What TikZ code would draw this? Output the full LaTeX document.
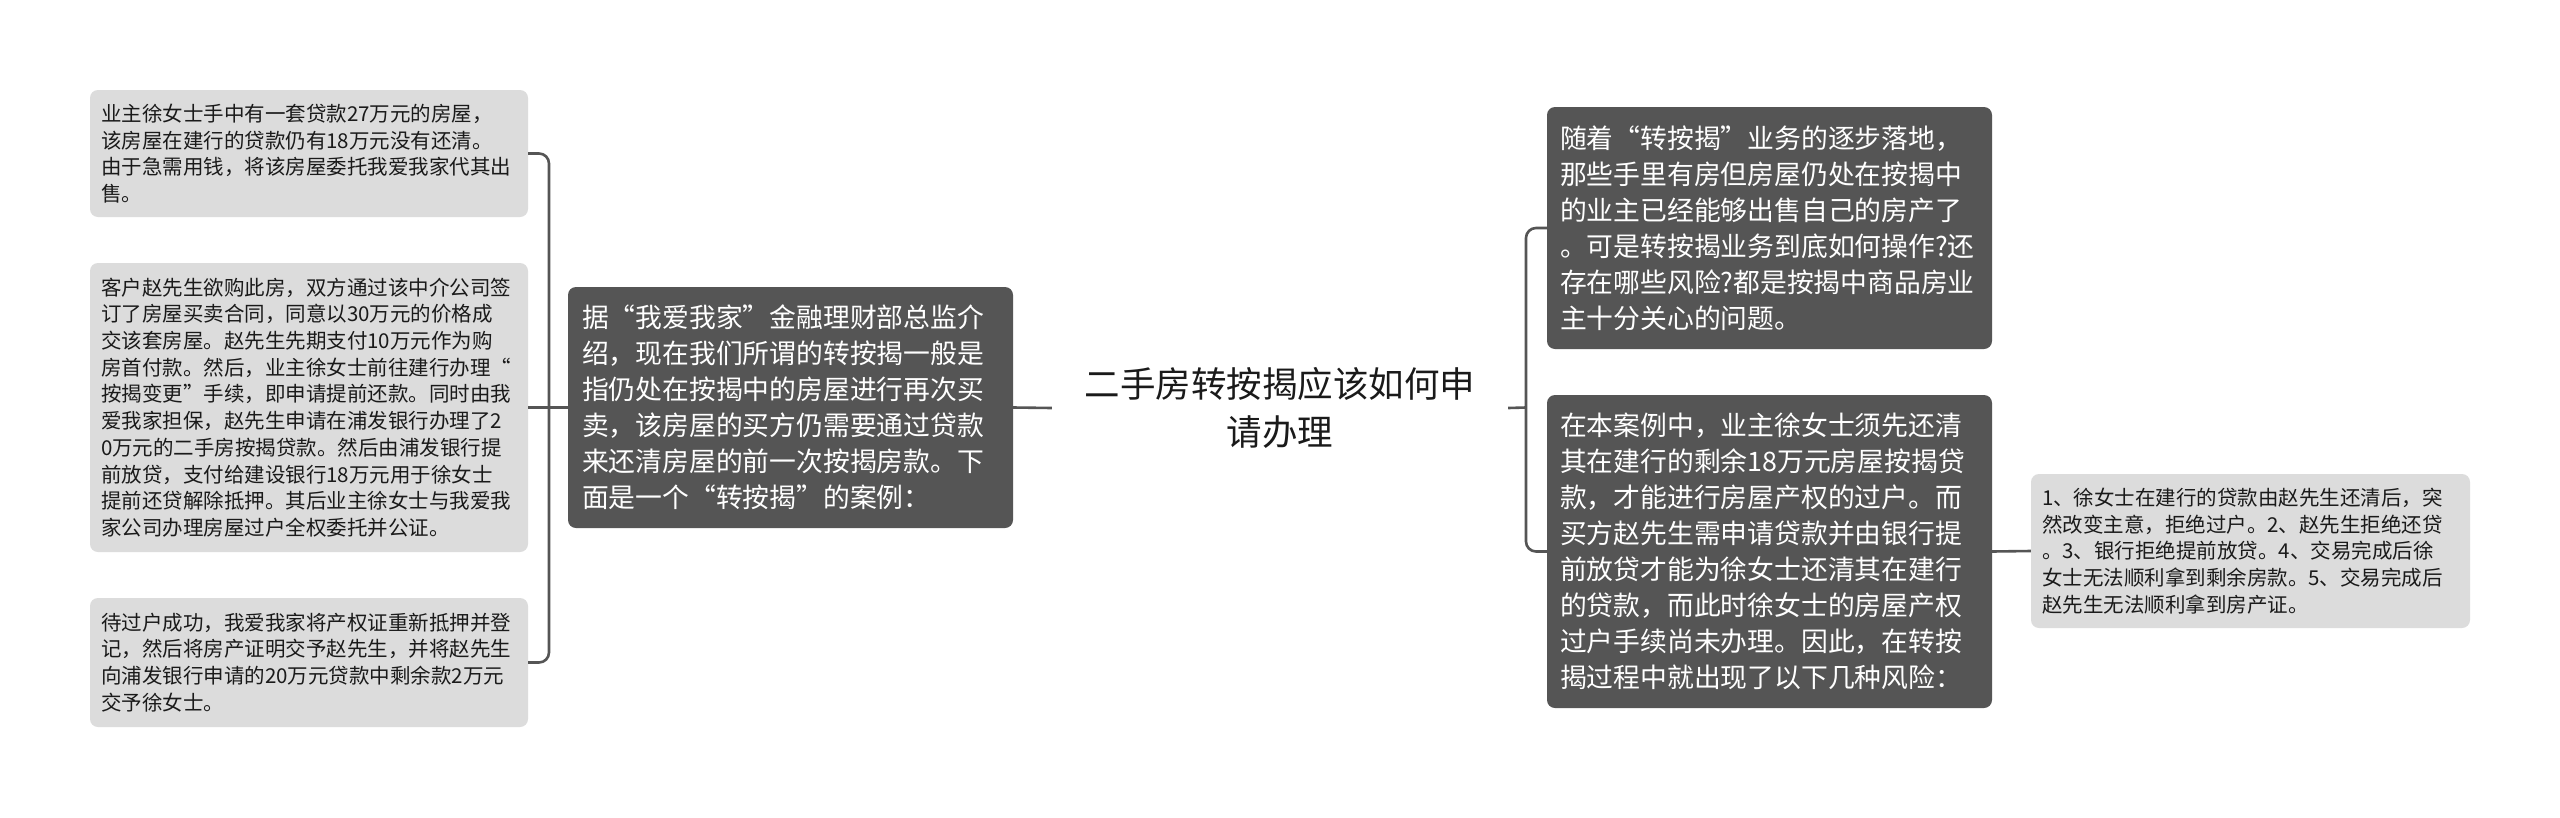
\documentclass[tikz,border=0pt]{standalone}
\usepackage{fontspec}
\setmainfont{Noto Sans CJK SC}
\definecolor{lightbox}{HTML}{DCDCDC}
\definecolor{darkbox}{HTML}{555555}
\definecolor{linec}{HTML}{555555}
\definecolor{txt}{HTML}{1A1A1A}
\tikzset{
  lightnode/.style={fill=lightbox, rounded corners=8pt, inner sep=0pt, align=left,
    text=txt, font=\fontsize{20.5}{26.7}\selectfont},
  darknode/.style={fill=darkbox, rounded corners=8pt, inner sep=0pt, align=left,
    text=white, font=\fontsize{26.8}{36}\selectfont},
  titlenode/.style={inner sep=0pt, align=center, text=txt, font=\fontsize{35.5}{48}\selectfont},
  conn/.style={draw=linec, line width=2.6pt, rounded corners=10pt}
}
\begin{document}
\begin{tikzpicture}[x=1pt,y=-1pt]
\path[use as bounding box, fill=white] (0,0) rectangle (2560,817);

% left column
\node[lightnode, minimum width=438pt, minimum height=127pt, text width=416pt] (L1) at (309,153.5)
{业主徐女士手中有一套贷款27万元的房屋，\\
该房屋在建行的贷款仍有18万元没有还清。\\
由于急需用钱，将该房屋委托我爱我家代其出\\
售。};
\node[lightnode, minimum width=438pt, minimum height=289pt, text width=416pt] (L2) at (309,407.5)
{客户赵先生欲购此房，双方通过该中介公司签\\
订了房屋买卖合同，同意以30万元的价格成\\
交该套房屋。赵先生先期支付10万元作为购\\
房首付款。然后，业主徐女士前往建行办理“\\
按揭变更”手续，即申请提前还款。同时由我\\
爱我家担保，赵先生申请在浦发银行办理了2\\
0万元的二手房按揭贷款。然后由浦发银行提\\
前放贷，支付给建设银行18万元用于徐女士\\
提前还贷解除抵押。其后业主徐女士与我爱我\\
家公司办理房屋过户全权委托并公证。};
\node[lightnode, minimum width=438pt, minimum height=129pt, text width=416pt] (L3) at (309,662.5)
{待过户成功，我爱我家将产权证重新抵押并登\\
记，然后将房产证明交予赵先生，并将赵先生\\
向浦发银行申请的20万元贷款中剩余款2万元\\
交予徐女士。};

% middle-left
\node[darknode, minimum width=445pt, minimum height=241pt, text width=417pt] (M) at (790.5,407.5)
{据“我爱我家”金融理财部总监介\\
绍，现在我们所谓的转按揭一般是\\
指仍处在按揭中的房屋进行再次买\\
卖，该房屋的买方仍需要通过贷款\\
来还清房屋的前一次按揭房款。下\\
面是一个“转按揭”的案例：};

% center title
\node[titlenode, minimum width=456pt, text width=440pt] (C) at (1280,408)
{二手房转按揭应该如何申\\请办理};

% right column
\node[darknode, minimum width=445pt, minimum height=242pt, text width=419pt] (R1) at (1769.5,228)
{随着“转按揭”业务的逐步落地，\\
那些手里有房但房屋仍处在按揭中\\
的业主已经能够出售自己的房产了\\
。可是转按揭业务到底如何操作?还\\
存在哪些风险?都是按揭中商品房业\\
主十分关心的问题。};
\node[darknode, minimum width=445pt, minimum height=313pt, text width=419pt] (R2) at (1769.5,551.5)
{在本案例中，业主徐女士须先还清\\
其在建行的剩余18万元房屋按揭贷\\
款，才能进行房屋产权的过户。而\\
买方赵先生需申请贷款并由银行提\\
前放贷才能为徐女士还清其在建行\\
的贷款，而此时徐女士的房屋产权\\
过户手续尚未办理。因此，在转按\\
揭过程中就出现了以下几种风险：};
\node[lightnode, minimum width=439pt, minimum height=154pt, text width=417pt] (R3) at (2250.5,551)
{1、徐女士在建行的贷款由赵先生还清后，突\\
然改变主意，拒绝过户。2、赵先生拒绝还贷\\
。3、银行拒绝提前放贷。4、交易完成后徐\\
女士无法顺利拿到剩余房款。5、交易完成后\\
赵先生无法顺利拿到房产证。};

% connectors
\coordinate (lb) at (549,407.5);
\coordinate (rb) at (1526,407.5);
\draw[conn] (M.west) -- (L2.east);
\draw[conn] (L1.east) -| (lb) |- (L3.east);
\draw[conn] (M.east) -- (C.west);
\draw[conn] (C.east) -- (rb);
\draw[conn] (R1.west) -| (rb) |- (R2.west);
\draw[conn] (R2.east) -- (R3.west);
\end{tikzpicture}
\end{document}
